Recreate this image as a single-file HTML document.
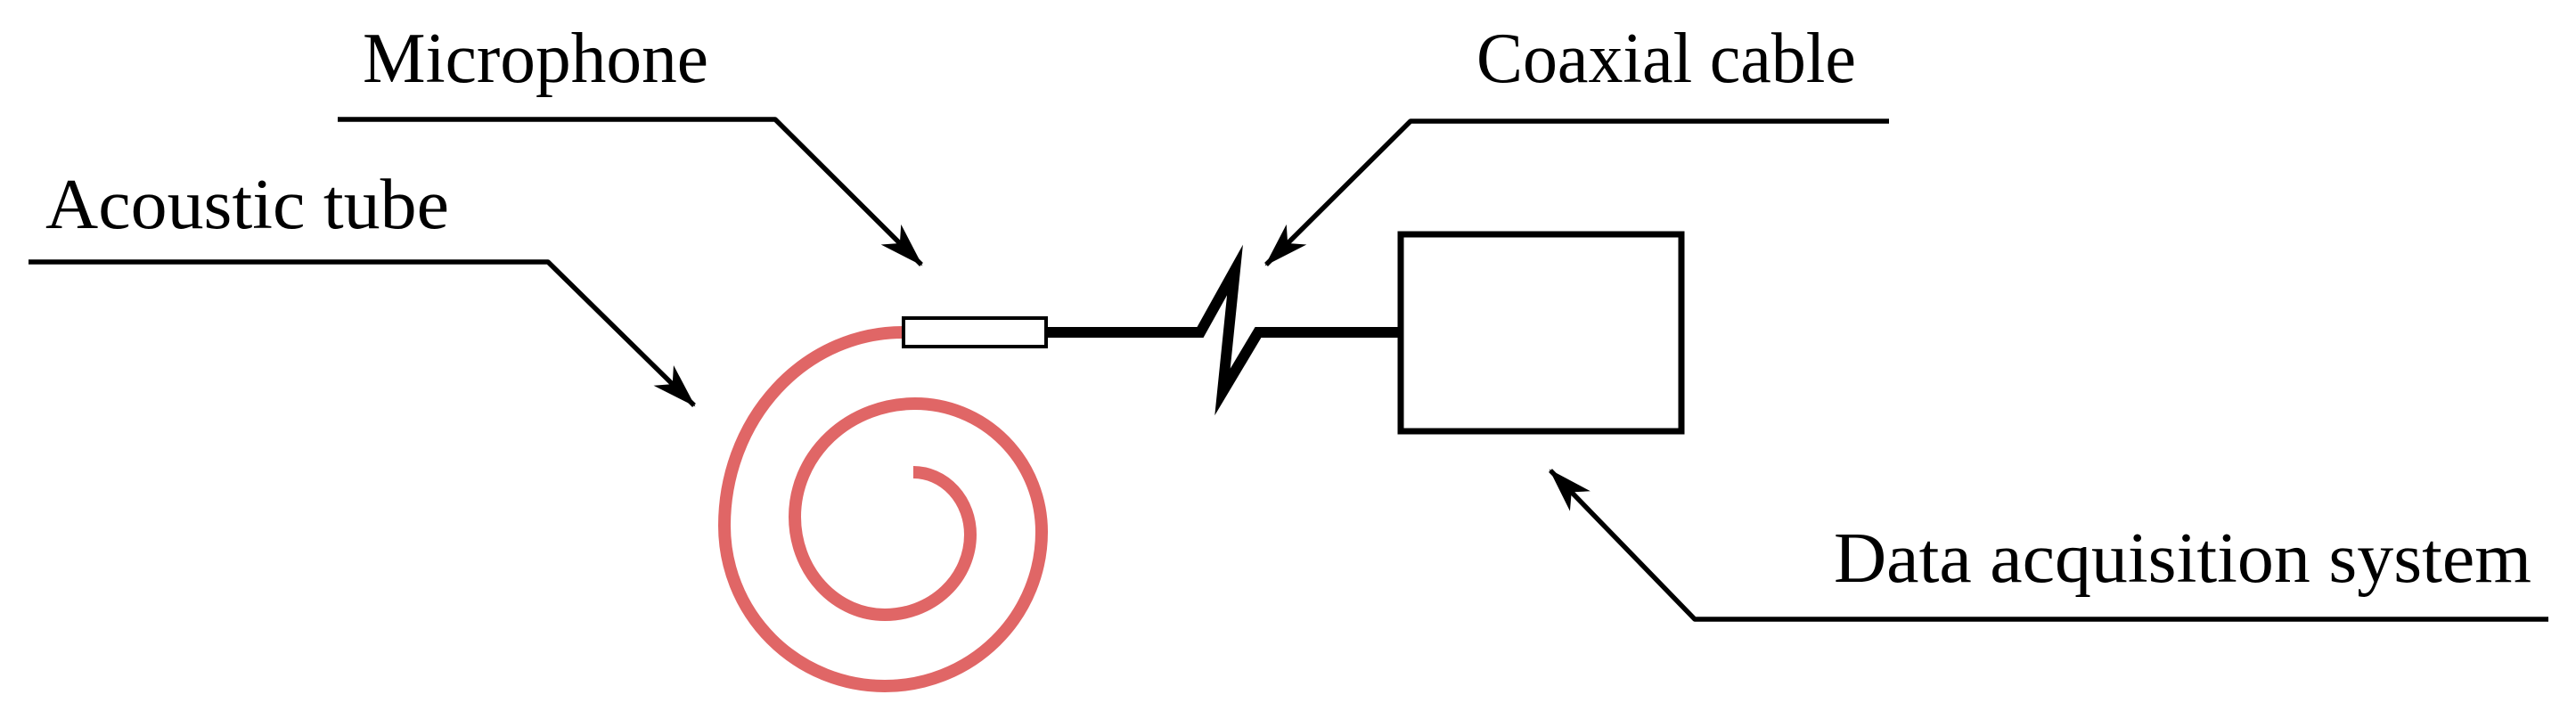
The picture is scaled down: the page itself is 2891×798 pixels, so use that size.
<!DOCTYPE html>
<html><head><meta charset="utf-8"><style>html,body{margin:0;padding:0;background:#fff}svg{display:block}</style></head>
<body>
<svg width="2891" height="798" viewBox="0 0 2891 798" xmlns="http://www.w3.org/2000/svg">
<defs>
<marker id="ah" markerWidth="52" markerHeight="36" refX="48" refY="17" orient="auto" markerUnits="userSpaceOnUse" viewBox="0 0 52 36">
<path d="M0,1 L50,17 L0,33 L14,17 z" fill="#000"/>
</marker>
</defs>
<g font-family="'Liberation Serif', serif" font-size="80" fill="#000">
<text x="407" y="92" textLength="388" lengthAdjust="spacingAndGlyphs">Microphone</text>
<text x="51" y="256" textLength="453" lengthAdjust="spacingAndGlyphs">Acoustic tube</text>
<text x="1657" y="92" textLength="426" lengthAdjust="spacingAndGlyphs">Coaxial cable</text>
<text x="2058" y="653" textLength="783" lengthAdjust="spacingAndGlyphs">Data acquisition system</text>
</g>
<g stroke="#000" stroke-width="5.5" fill="none" stroke-linejoin="round">
<polyline points="379,134 870,134 1034,297" marker-end="url(#ah)"/>
<polyline points="32,294 615,294 779,455" marker-end="url(#ah)"/>
<polyline points="2120,136 1583,136 1421,297" marker-end="url(#ah)"/>
<polyline points="2860,695 1902,695 1740,528" marker-end="url(#ah)"/>
</g>
<path d="M1013,373 A200,217 0 0 0 813,590 A180,180 0 0 0 993,770 A176,173 0 0 0 1169,597 A142,144 0 0 0 1027,453 A135,127 0 0 0 892,580 A101,110 0 0 0 993,690 A96,90 0 0 0 1089,600 A64,70 0 0 0 1025,530" stroke="#e06666" stroke-width="14" fill="none"/>
<rect x="1014" y="357" width="160" height="32" fill="#fff" stroke="#000" stroke-width="4"/>
<polyline points="1174,373 1347,373 1386,303 1372,440 1412,373 1570,373" stroke="#000" stroke-width="12" fill="none" stroke-linejoin="miter" stroke-miterlimit="12"/>
<rect x="1572" y="263" width="315" height="221" fill="#fff" stroke="#000" stroke-width="7"/>
</svg>
</body></html>
